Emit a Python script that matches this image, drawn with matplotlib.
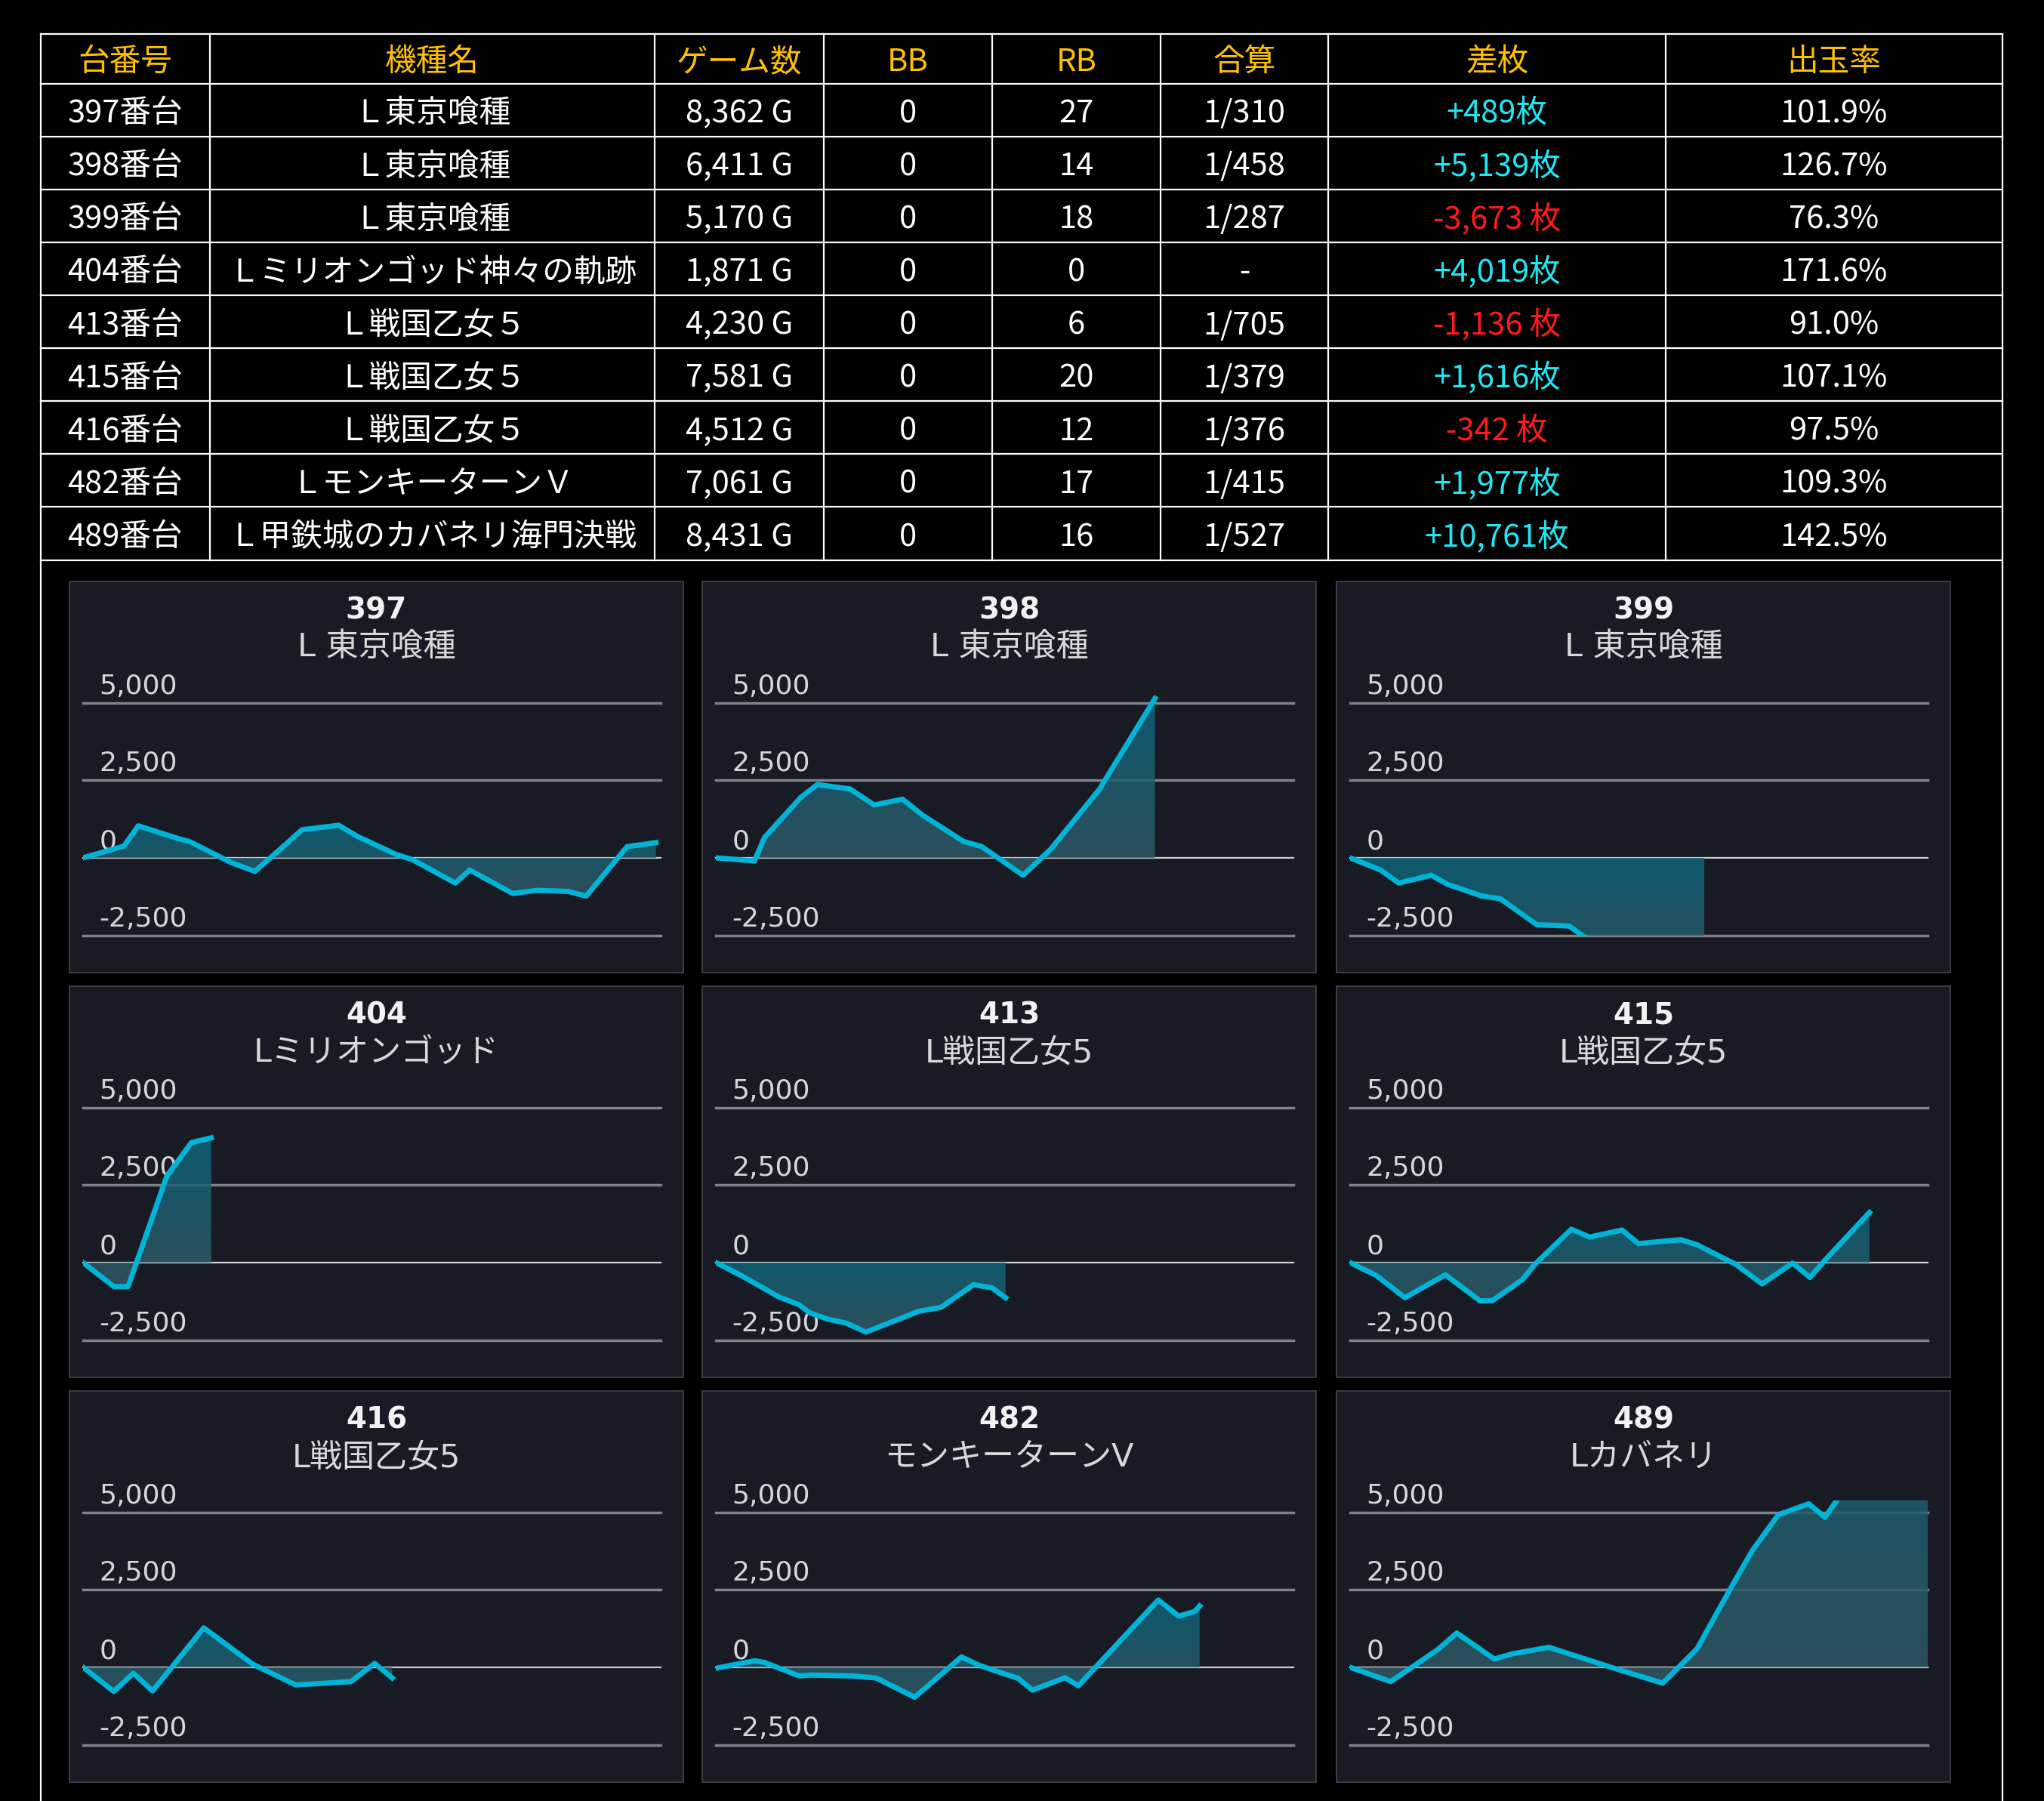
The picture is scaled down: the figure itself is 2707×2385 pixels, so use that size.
import numpy as np
import matplotlib
matplotlib.use("Agg")
import matplotlib.pyplot as plt
from matplotlib.patches import Rectangle
from matplotlib.lines import Line2D

plt.rcParams['font.family'] = ['DejaVu Sans', 'Noto Sans CJK JP']

# table data
header = ['台番号', '機種名', 'ゲーム数', 'BB', 'RB', '合算', '差枚', '出玉率']
units = ['397番台', '398番台', '399番台', '404番台', '413番台', '415番台', '416番台', '482番台', '489番台']
machines = ['Ｌ東京喰種', 'Ｌ東京喰種', 'Ｌ東京喰種', 'Ｌミリオンゴッド神々の軌跡', 'Ｌ戦国乙女５',
            'Ｌ戦国乙女５', 'Ｌ戦国乙女５', 'ＬモンキーターンＶ', 'Ｌ甲鉄城のカバネリ海門決戦']
game_counts = [8362, 6411, 5170, 1871, 4230, 7581, 4512, 7061, 8431]
bb = [0, 0, 0, 0, 0, 0, 0, 0, 0]
rb = [27, 14, 18, 0, 6, 20, 12, 17, 16]
combined = ['1/310', '1/458', '1/287', '-', '1/705', '1/379', '1/376', '1/415', '1/527']
diffs = [489, 5139, -3673, 4019, -1136, 1616, -342, 1977, 10761]
rates = ['101.9%', '126.7%', '76.3%', '171.6%', '91.0%', '107.1%', '97.5%', '109.3%', '142.5%']

# chart data (games played, coin difference)
chart_ids = ['397', '398', '399', '404', '413', '415', '416', '482', '489']
chart_names = ['L 東京喰種', 'L 東京喰種', 'L 東京喰種', 'Lミリオンゴッド', 'L戦国乙女5',
               'L戦国乙女5', 'L戦国乙女5', 'モンキーターンV', 'Lカバネリ']

g397 = [0, 597, 806, 1403, 1552, 2150, 2508, 2986, 3194, 3732, 4000, 4568, 4807, 5434, 5643, 6270, 6628, 7076, 7344, 7941, 8362]
v397 = [0, 378, 1032, 612, 529, -143, -436, 487, 906, 1049, 696, 109, -59, -814, -394, -1149, -1049, -1082, -1233, 361, 489]
g398 = [0, 563, 711, 1244, 1481, 1955, 2311, 2726, 3022, 3614, 3881, 4485, 4888, 5599, 6411]
v398 = [0, -101, 654, 1955, 2358, 2223, 1703, 1888, 1368, 529, 361, -562, 277, 2207, 5139]
g399 = [0, 444, 711, 1185, 1422, 1926, 2192, 2726, 3200, 3407, 4150, 5170]
v399 = [0, -394, -814, -562, -856, -1233, -1317, -2156, -2198, -2534, -3150, -3673]
g404 = [0, 448, 657, 1224, 1582, 1871]
v404 = [0, -772, -772, 2794, 3868, 4019]
g413 = [0, 385, 918, 1215, 1363, 1629, 1896, 2192, 2963, 3288, 3762, 4029, 4230]
v413 = [0, -436, -1107, -1359, -1611, -1821, -1946, -2240, -1569, -1443, -713, -814, -1136]
g415 = [0, 385, 800, 1392, 1896, 2074, 2518, 2696, 3229, 3496, 3970, 4207, 4829, 5066, 5629, 6014, 6458, 6713, 6962, 7581]
v415 = [0, -420, -1133, -394, -1233, -1233, -545, -59, 1074, 822, 1049, 612, 738, 570, -59, -688, -17, -478, 151, 1616]
g416 = [0, 448, 734, 1015, 1761, 2478, 3105, 3911, 4257, 4512]
v416 = [0, -778, -193, -762, 1272, 100, -569, -460, 126, -342]
g482 = [0, 563, 711, 1215, 1392, 1985, 2340, 2903, 3585, 3851, 4414, 4622, 5096, 5291, 6458, 6755, 6992, 7061]
v482 = [-30, 210, 159, -277, -251, -277, -344, -964, 335, 59, -360, -737, -335, -595, 2170, 1651, 1802, 1977]
g489 = [0, 593, 1274, 1558, 2103, 2370, 2903, 3822, 4562, 5066, 5540, 5866, 6251, 6695, 6932, 7110, 8431]
v489 = [0, -461, 561, 1106, 268, 436, 645, -8, -511, 603, 2488, 3745, 4919, 5271, 4835, 5400, 10761]

series = [(g397, v397), (g398, v398), (g399, v399), (g404, v404), (g413, v413),
          (g415, v415), (g416, v416), (g482, v482), (g489, v489)]
grid_vals = [5000, 2500, 0, -2500]

W, H = 2707, 2385
fig = plt.figure(figsize=(W / 100, H / 100), dpi=100, facecolor='black')


def fx(x):
    return x / W


def fy(y):
    return 1 - y / H


# ---- table ----
col_edges = [53.5, 278, 867, 1091, 1314, 1537, 1759, 2206, 2652]
row_edges = [44.5, 110.5] + [110.5 + 70.12 * (i + 1) for i in range(9)]

for y in row_edges:
    fig.add_artist(Line2D([fx(col_edges[0]), fx(col_edges[-1])], [fy(y), fy(y)], color='white', lw=1.6))
for i, x in enumerate(col_edges):
    bottom = H if i in (0, len(col_edges) - 1) else row_edges[-1]
    fig.add_artist(Line2D([fx(x), fx(x)], [fy(row_edges[0]), fy(bottom)], color='white', lw=1.6))

tfont = ['Noto Sans CJK JP', 'DejaVu Sans']
for j, h in enumerate(header):
    cx = (col_edges[j] + col_edges[j + 1]) / 2
    fig.text(fx(cx), fy((row_edges[0] + row_edges[1]) / 2 + 5), h, ha='center', va='center',
             color='#ffc000', fontsize=30, family=tfont)

for i in range(len(units)):
    d = diffs[i]
    if d >= 0:
        dtxt, dcol = '+{:,}枚'.format(d), '#1ee8f4'
    else:
        dtxt, dcol = '{:,} 枚'.format(d), '#ff1a1a'
    cells = [units[i], machines[i], '{:,} G'.format(game_counts[i]), str(bb[i]), str(rb[i]),
             combined[i], dtxt, rates[i]]
    cy = (row_edges[i + 1] + row_edges[i + 2]) / 2 + 5
    for j, txt in enumerate(cells):
        cx = (col_edges[j] + col_edges[j + 1]) / 2
        fig.text(fx(cx), fy(cy), txt, ha='center', va='center',
                 color=dcol if j == 6 else 'white', fontsize=30, family=tfont)

# ---- charts ----
panel_left = [92, 930, 1770]
panel_top = [770, 1306, 1842]
panel_w, panel_h = 813, 518
x_max = max(game_counts)
y_lo, y_hi = -2500, 5380

top_c = np.array([12, 101, 123]) / 255
bot_c = np.array([50, 87, 100]) / 255
t = np.linspace(0, 1, 256)[:, None]
grad = np.zeros((256, 1, 4))
grad[:, 0, :3] = bot_c + (top_c - bot_c) * t
grad[:, 0, 3] = 0.85

for k, (g, v) in enumerate(series):
    r, c = divmod(k, 3)
    pl, pt = panel_left[c], panel_top[r]

    fig.add_artist(Rectangle((fx(pl), fy(pt + panel_h)), panel_w / W, panel_h / H,
                             transform=fig.transFigure, facecolor='#181b24',
                             edgecolor='#43464e', lw=1.2, zorder=-1))

    ax_left = pl + 18
    ax_bottom = pt + 468.7
    ax_top = pt + 144.9
    ax = fig.add_axes([fx(ax_left), fy(ax_bottom), 765 / W, (ax_bottom - ax_top) / H])
    ax.set_facecolor('none')

    for val in grid_vals:
        if val == 0:
            ax.axhline(val, color='#cfd0d3', lw=1.6, zorder=1, clip_on=False)
        else:
            ax.axhline(val, color='#808289', lw=2.5, zorder=1, clip_on=False)
        ax.annotate('{:,}'.format(val), xy=(0, val), xycoords=ax.get_yaxis_transform(),
                    xytext=(15.5, 8.6), textcoords='offset points', ha='left', va='baseline',
                    fontsize=26, color='#d6d6d6', family='DejaVu Sans', zorder=1.5,
                    annotation_clip=False)

    g = np.asarray(g, dtype=float)
    v = np.asarray(v, dtype=float)
    poly = ax.fill_between(g, v, 0, facecolor='none', edgecolor='none')
    path = poly.get_paths()[0]
    lo, hi = min(v.min(), 0), max(v.max(), 0)
    im = ax.imshow(grad, extent=[0, g[-1], lo, hi], origin='lower', aspect='auto',
                   interpolation='bilinear', zorder=2)
    im.set_clip_path(path, transform=ax.transData)

    ax.plot(g, v, color='#00b4d8', lw=5, zorder=3, solid_joinstyle='round')

    ax.set_xlim(0, x_max)
    ax.set_ylim(y_lo, y_hi)
    ax.axis('off')

    cx = pl + panel_w / 2
    fig.text(fx(cx), fy(pt + 38), chart_ids[k], ha='center', va='center', fontsize=28,
             fontweight='bold', color='#f2f2f2', family='DejaVu Sans')
    fig.text(fx(cx), fy(pt + 88), chart_names[k], ha='center', va='center', fontsize=31,
             color='#d8d8d8', family=['DejaVu Sans', 'Noto Sans CJK JP'])

fig.savefig('out.png', dpi=100, facecolor='black')
